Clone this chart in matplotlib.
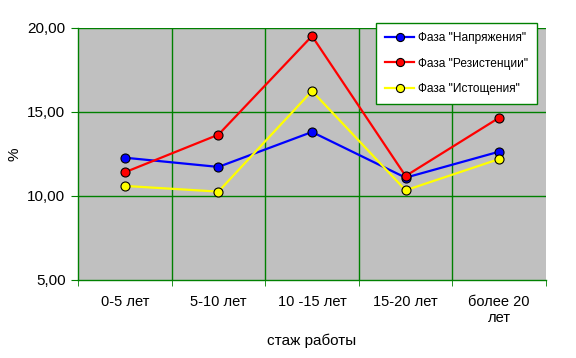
import numpy as np
import matplotlib.pyplot as plt
from matplotlib.ticker import FuncFormatter

plt.rcParams['font.family'] = ['Liberation Sans', 'DejaVu Sans']

# Data
categories = ['0-5 лет', '5-10 лет', '10 -15 лет', '15-20 лет', 'более 20\nлет']
naprazh = [12.28, 11.73, 13.81, 11.09, 12.64]
rezist = [11.41, 13.65, 19.52, 11.19, 14.66]
istoshch = [10.60, 10.26, 16.25, 10.34, 12.20]

x = np.arange(len(categories))
grid_green = '#008000'

fig = plt.figure(figsize=(5.76, 3.58), dpi=100)
ax = fig.add_axes([0.1354, 0.2179, 0.8125, 0.7039])
ax.set_facecolor('#C0C0C0')

style = dict(lw=1.6, marker='o', ms=6.5, mec='black', mew=0.8)
ax.plot(x, naprazh, color='#0000FF', mfc='#0000FF', label='Фаза "Напряжения"', **style)
ax.plot(x, rezist, color='#FF0000', mfc='#FF0000', label='Фаза "Резистенции"', **style)
ax.plot(x, istoshch, color='#FFFF00', mfc='#FFFF00', label='Фаза "Истощения"', **style)

ax.set_xlim(-0.5, len(categories) - 0.5)
ax.set_ylim(5, 20)

# y axis
ax.set_yticks([5, 10, 15, 20])
ax.yaxis.set_major_formatter(FuncFormatter(lambda v, p: f'{v:.2f}'.replace('.', ',')))
ax.tick_params(axis='y', direction='out', length=5, color=grid_green, labelsize=11, pad=4)

# x axis: labels at centers, ticks at boundaries
ax.set_xticks(x)
ax.set_xticklabels(categories)
ax.set_xticks(np.arange(-0.5, len(categories), 1.0), minor=True)
ax.tick_params(axis='x', which='major', length=0, labelsize=10.5, pad=11)
ax.tick_params(axis='x', which='minor', direction='out', length=4, color=grid_green)

# grid lines
for yv in [10, 15, 20]:
    ax.axhline(yv, color=grid_green, lw=1, zorder=0.5)
for xv in np.arange(0.5, len(categories) - 1, 1.0):
    ax.axvline(xv, color=grid_green, lw=1, zorder=0.5)

for s in ['top', 'right']:
    ax.spines[s].set_visible(False)
for s in ['left', 'bottom']:
    ax.spines[s].set_color(grid_green)
    ax.spines[s].set_linewidth(1)

ax.set_ylabel('%', fontsize=11)
ax.yaxis.set_label_coords(-0.12, 0.5)
ax.set_xlabel('стаж работы', fontsize=11, labelpad=6)

leg = ax.legend(loc='upper right', bbox_to_anchor=(0.98, 1.02), fontsize=8.6,
                frameon=True, fancybox=False, framealpha=1, edgecolor=grid_green,
                handlelength=2.4, borderpad=0.75, labelspacing=1.15, handletextpad=0.3,
                borderaxespad=0, markerscale=0.9)
leg.get_frame().set_linewidth(1)

fig.savefig('out.png', dpi=100, facecolor='white')
